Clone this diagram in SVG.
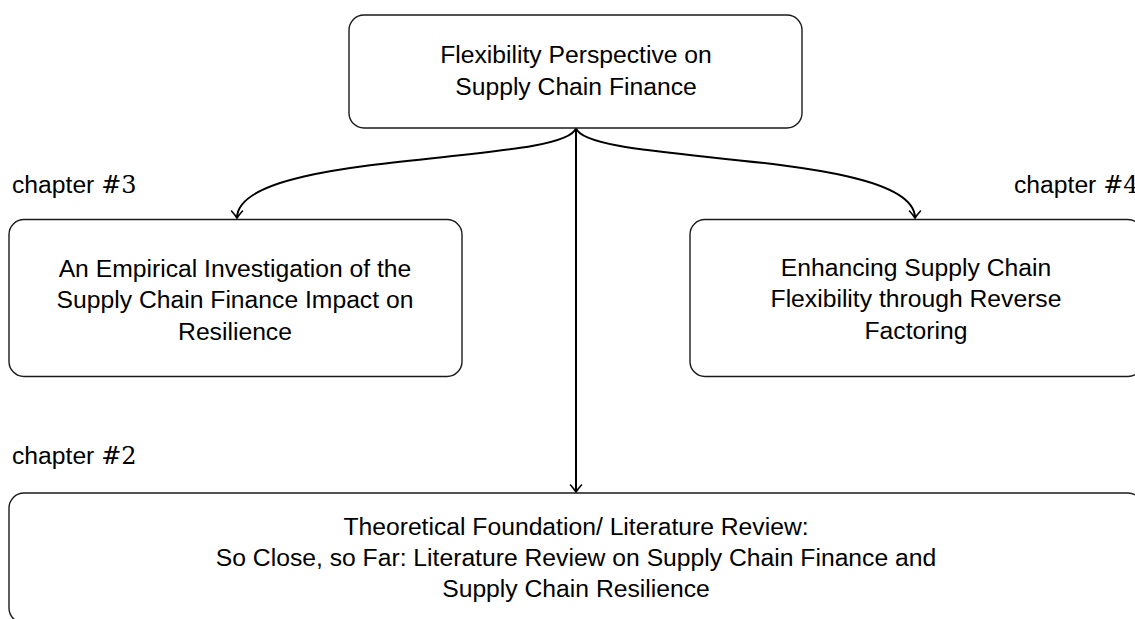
<svg xmlns="http://www.w3.org/2000/svg" width="1135" height="619" viewBox="0 0 1135 619">
<defs>
<style>
.box{fill:#fff;stroke:#1a1a1a;stroke-width:1.4}
.t{font-family:"Liberation Sans",Arial,sans-serif;font-size:24.7px;fill:#000;text-anchor:middle}
.lab{font-family:"Liberation Sans",Arial,sans-serif;font-size:24.7px;fill:#000}
.m{font-family:"DejaVu Serif","Liberation Serif",serif;font-size:24px}
.c{fill:none;stroke:#000;stroke-width:2}
</style>
<marker id="ah" markerUnits="userSpaceOnUse" markerWidth="20" markerHeight="20" viewBox="-10 -10 20 20" refX="0" refY="0" orient="auto">
<path d="M-7,-5.5 Q-2.5,-1.5 0,0 Q-2.5,1.5 -7,5.5" fill="none" stroke="#000" stroke-width="1.6" stroke-linecap="round"/>
</marker>
</defs>
<g id="connectors">
<path class="c" d="M576,128 L576,492" marker-end="url(#ah)"/>
<path class="c" d="M576,128 C566,165 237,150 237,218" marker-end="url(#ah)"/>
<path class="c" d="M576,128 C586,165 915,150 915,218" marker-end="url(#ah)"/>
</g>
<g id="node-top">
<rect class="box" x="349" y="15" width="453" height="113" rx="15"/>
<text class="t" x="576" y="63">Flexibility Perspective on</text>
<text class="t" x="576" y="95">Supply Chain Finance</text>
</g>
<g id="node-ch3">
<rect class="box" x="9" y="219.5" width="453" height="157" rx="15"/>
<text class="t" x="235" y="277">An Empirical Investigation of the</text>
<text class="t" x="235" y="308">Supply Chain Finance Impact on</text>
<text class="t" x="235" y="340">Resilience</text>
</g>
<g id="node-ch4">
<rect class="box" x="690" y="219.5" width="453" height="157" rx="15"/>
<text class="t" x="916" y="276">Enhancing Supply Chain</text>
<text class="t" x="916" y="307">Flexibility through Reverse</text>
<text class="t" x="916" y="339">Factoring</text>
</g>
<g id="node-ch2">
<rect class="box" x="9" y="493" width="1134" height="130" rx="15"/>
<text class="t" x="576" y="535">Theoretical Foundation/ Literature Review:</text>
<text class="t" x="576" y="566">So Close, so Far: Literature Review on Supply Chain Finance and</text>
<text class="t" x="576" y="597">Supply Chain Resilience</text>
</g>
<g id="labels">
<text class="lab" x="12" y="193">chapter <tspan class="m">#3</tspan></text>
<text class="lab" x="1014" y="193">chapter <tspan class="m">#4</tspan></text>
<text class="lab" x="12" y="464">chapter <tspan class="m">#2</tspan></text>
</g>
</svg>
